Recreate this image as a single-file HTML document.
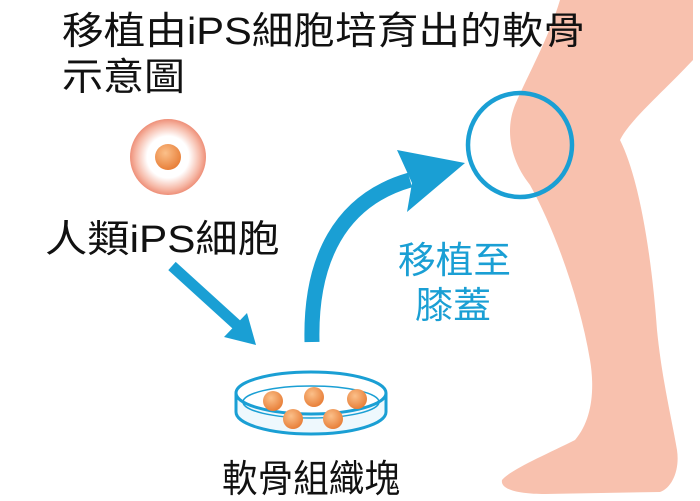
<!DOCTYPE html>
<html><head><meta charset="utf-8"><style>
html,body{margin:0;padding:0;background:#fff;}
svg{display:block;}
text{font-family:"Liberation Sans","Noto Sans CJK TC",sans-serif;}
</style></head><body>
<svg width="700" height="501" viewBox="0 0 700 501" xmlns="http://www.w3.org/2000/svg">
<defs>
<radialGradient id="cell" cx="50%" cy="50%" r="50%">
<stop offset="0" stop-color="#fff"/>
<stop offset="0.55" stop-color="#fff"/>
<stop offset="0.85" stop-color="#f6b8a6"/>
<stop offset="1" stop-color="#ee8f78"/>
</radialGradient>
<radialGradient id="ball" cx="40%" cy="35%" r="65%">
<stop offset="0" stop-color="#fbc08a"/>
<stop offset="1" stop-color="#e8803a"/>
</radialGradient>
</defs>
<!-- leg -->
<path d="M560,0 L693,0 L693,60 C660,95 630,120 620,140 C640,180 652,260 657,330 C662,380 672,420 677,450 C680,470 672,488 660,492 L545,494 C520,494 500,490 502,480 C510,470 545,455 575,440 C592,420 595,390 590,360 C580,300 555,230 530,185 C510,160 505,130 515,105 C530,70 548,40 560,0 Z" fill="#f8c1ae"/>
<!-- knee circle -->
<circle cx="520" cy="145" r="52" fill="none" stroke="#1a9fd4" stroke-width="4.5"/>
<!-- big arrow -->
<path d="M312,342 C310,260 340,200 410,180" fill="none" stroke="#1a9fd4" stroke-width="15"/>
<path d="M465,163 L397,150 L412,183 L407,212 Z" fill="#1a9fd4"/>
<!-- small arrow -->
<line x1="172" y1="266" x2="238" y2="326" stroke="#1a9fd4" stroke-width="11"/>
<path d="M256,345 L224,337 L247,313 Z" fill="#1a9fd4"/>
<!-- cell -->
<circle cx="168" cy="157" r="38" fill="url(#cell)"/>
<circle cx="168" cy="157" r="13" fill="url(#ball)"/>
<!-- dish -->
<path d="M236,393 L236,412 A75,22 0 0 0 386,412 L386,393" fill="#eef8fd" stroke="#1a9fd4" stroke-width="3"/>
<ellipse cx="311" cy="393" rx="75" ry="21" fill="#fff" stroke="#1a9fd4" stroke-width="3"/>
<ellipse cx="311" cy="402" rx="68" ry="16" fill="none" stroke="#1a9fd4" stroke-width="1.5"/>
<circle cx="273" cy="401" r="10" fill="url(#ball)"/>
<circle cx="314" cy="397" r="10" fill="url(#ball)"/>
<circle cx="357" cy="399" r="10" fill="url(#ball)"/>
<circle cx="293" cy="419" r="10" fill="url(#ball)"/>
<circle cx="333" cy="419" r="10" fill="url(#ball)"/>
<!-- text -->
<text x="62" y="44" font-size="38" fill="#111" textLength="523" lengthAdjust="spacingAndGlyphs">移植由iPS細胞培育出的軟骨</text>
<text x="62" y="90" font-size="38" fill="#111" textLength="123" lengthAdjust="spacingAndGlyphs">示意圖</text>
<text x="45" y="252" font-size="38" fill="#111" textLength="235" lengthAdjust="spacingAndGlyphs">人類iPS細胞</text>
<text x="398" y="273" font-size="37" fill="#1a9fd4" textLength="113" lengthAdjust="spacingAndGlyphs">移植至</text>
<text x="415" y="318" font-size="37" fill="#1a9fd4" textLength="76" lengthAdjust="spacingAndGlyphs">膝蓋</text>
<text x="222" y="492" font-size="38" fill="#111" textLength="178" lengthAdjust="spacingAndGlyphs">軟骨組織塊</text>
</svg>
</body></html>
